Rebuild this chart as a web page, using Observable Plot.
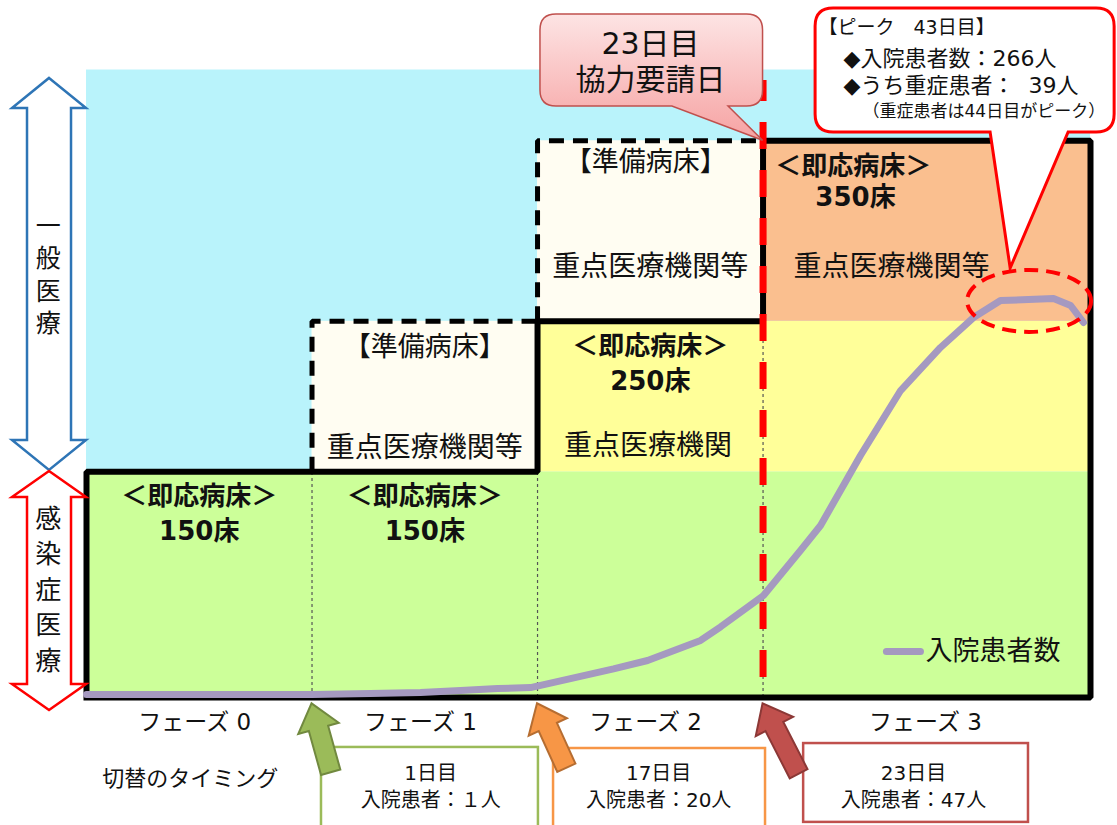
<!DOCTYPE html>
<html lang="ja"><head><meta charset="utf-8">
<script src="https://cdn.jsdelivr.net/npm/d3@7"></script>
<script src="https://cdn.jsdelivr.net/npm/@observablehq/plot@0.6"></script>
<style>
html,body{margin:0;padding:0;background:#fff;overflow:hidden}
svg{display:block}
</style></head>
<body><div id="chart"></div>
<script>
// ================= DATA =================
// x: timeline units (each of phases 0-2 spans 10 units); y: beds / patients
const phaseLabels = ["フェーズ 0", "フェーズ 1", "フェーズ 2", "フェーズ 3"];
const phaseStart = [0, 10, 20, 30];
const phaseEnd = [10, 20, 30, 44.52];
const immediateBeds = ["150床", "150床", "250床", "350床"];
const immediateLevel = [150, 150, 250, 370];
const prepPhase = [1, 2];
const prepLevel = [250, 370];
const generalTop = 417;

// inpatient curve
const curveX = [0, 5.06, 10.02, 12.59, 14.81, 16.59, 18.23, 19.69, 21.46, 23.37, 24.88, 27.23, 28.12, 30.02, 31.66, 32.55, 34.32, 36.1, 37.87, 39.33, 40.53, 42.88, 43.64, 44.21];
const curveY = [2, 2, 2, 2.7, 3.3, 4.7, 6, 6.6, 12.6, 19, 24.6, 37.9, 47, 67.8, 97.7, 114.3, 160.8, 204, 232.6, 252.5, 263.8, 265.1, 260.5, 249.2];

const switchDays = ["1日目", "17日目", "23日目"];
const switchPatients = ["入院患者：１人", "入院患者：20人", "入院患者：47人"];
const switchFill = ["#9bbb59", "#f79646", "#c0504d"];
const switchLine = ["#71893f", "#b66d31", "#8c3836"];

const sideLabels = ["一般医療", "感染症医療"];
const sideColors = ["#2e75b6", "#ff0000"];

const requestDayText = ["23日目", "協力要請日"];
const peakTexts = ["【ピーク　43日目】", "◆入院患者数：266人", "◆うち重症患者：\u200739人", "（重症患者は44日目がピーク）"];
const legendLabel = "入院患者数";

// ================= LAYOUT / STYLE =================
const FONT = "'DejaVu Sans', 'Noto Sans CJK JP', sans-serif";
const JP = "'Noto Sans CJK JP', sans-serif";
const C = {blue:"#b9f3fb", green:"#ccff99", yellow:"#ffff99", orange:"#fabf8f", cream:"#fffdf2", curve:"#a599c0"};

const regions = [
  {x1: phaseStart[0], x2: phaseEnd[3], y1: immediateLevel[0], y2: generalTop, fill: C.blue},
  {x1: phaseStart[0], x2: phaseEnd[3], y1: 0, y2: immediateLevel[0], fill: C.green},
  {x1: phaseStart[2], x2: phaseEnd[3], y1: immediateLevel[0], y2: immediateLevel[2], fill: C.yellow},
  {x1: phaseStart[3], x2: phaseEnd[3], y1: immediateLevel[2], y2: immediateLevel[3], fill: C.orange},
  ...prepPhase.map((p, i) => ({x1: phaseStart[p], x2: phaseEnd[p], y1: immediateLevel[p], y2: prepLevel[i], fill: C.cream}))
];

const outline = [
  [phaseStart[0], 0], [phaseStart[0], immediateLevel[0]], [phaseStart[2], immediateLevel[1]],
  [phaseStart[2], immediateLevel[2]], [phaseStart[3], immediateLevel[2]], [phaseStart[3], immediateLevel[3]],
  [phaseEnd[3], immediateLevel[3]], [phaseEnd[3], 0], [phaseStart[0], 0]
].map(([x, y]) => ({x, y}));

const prepOutline = prepPhase.flatMap((p, i) => [
  {x: phaseStart[p], y: immediateLevel[p], z: p},
  {x: phaseStart[p], y: prepLevel[i], z: p},
  {x: phaseEnd[p], y: prepLevel[i], z: p}
]);

const dividers = [
  {x: phaseStart[1], y2: immediateLevel[0]},
  {x: phaseStart[2], y2: immediateLevel[1]},
  {x: phaseStart[3], y2: immediateLevel[2]}
];

const curve = curveX.map((x, i) => ({x, y: curveY[i]}));

const boldTexts = [
  {x: 5, y: 133.6, t: "＜即応病床＞"}, {x: 5, y: 110.3, t: immediateBeds[0]},
  {x: 15, y: 133.6, t: "＜即応病床＞"}, {x: 15, y: 110.3, t: immediateBeds[1]},
  {x: 25, y: 233.3, t: "＜即応病床＞"}, {x: 25, y: 210, t: immediateBeds[2]},
  {x: 34, y: 352.9, t: "＜即応病床＞"}, {x: 34.1, y: 332.3, t: immediateBeds[3]}
];
const prepTexts = [
  {x: 15, y: 232.6, t: "【準備病床】"},
  {x: 24.8, y: 355.5, t: "【準備病床】"}
];
const hospTexts = [
  {x: 15, y: 165.5, t: "重点医療機関等"},
  {x: 25, y: 286.4, t: "重点医療機関等"},
  {x: 24.9, y: 166.8, t: "重点医療機関"},
  {x: 35.7, y: 286.4, t: "重点医療機関等"}
];
const phaseLabelPos = [{x: 4.8, y: -16.6}, {x: 14.81, y: -16.6}, {x: 24.79, y: -16.6}, {x: 37.2, y: -16.6}];

const switchBoxes = [
  {x1: 10.42, x2: 20.04, y1: -86, y2: -33.2, cx: 15.26},
  {x1: 20.71, x2: 30.11, y1: -86, y2: -33.9, cx: 25.37},
  {x1: 31.8, x2: 41.77, y1: -83, y2: -30.6, cx: 36.67}
];
const switchTail = [{x: 10.85, y: -50}, {x: 21.3, y: -47}, {x: 31.6, y: -51}];
const switchTipY = -4.2;

// side arrows (x in units left of 0)
const sideArrowX = -1.64;
const sideSpan = [{top: 411.4, bot: 150.9, head: 30}, {top: 150.2, bot: -8.6, head: 26}];
const sideText = [
  {x: -1.7, y: 282.1, t: [...sideLabels[0]].join("\n"), s: 25, lh: 1.3},
  {x: -1.7, y: 73.1, t: [...sideLabels[1]].join("\n"), s: 26, lh: 1.36}
];

// callouts (units)
const call1 = {x0: 20.13, x1: 30.0, y0: 453.9, y1: 392.7, xa: 25.98, xb: 28.47, tipX: phaseStart[3], tipY: immediateLevel[3]};
const call2 = {x0: 32.33, x1: 45.59, y0: 457.9, y1: 375.5, xa: 40.09, xb: 43.55, tipX: 40.98, tipY: 285.1};
const ellipse = {x: 41.82, y: 263.2, rx: 62, ry: 31};

// ================= HELPERS =================
function calloutPath(x0, y0, x1, y1, r, xa, xb, tx, ty) {
  return `M${x0 + r},${y0}H${x1 - r}Q${x1},${y0} ${x1},${y0 + r}V${y1 - r}Q${x1},${y1} ${x1 - r},${y1}` +
    `H${xb}L${tx},${ty}L${xa},${y1}H${x0 + r}Q${x0},${y1} ${x0},${y1 - r}V${y0 + r}Q${x0},${y0} ${x0 + r},${y0}Z`;
}
function blockArrow(tx, ty, sx, sy, sh, hh, hl) {
  const dx = tx - sx, dy = ty - sy, L = Math.hypot(dx, dy);
  const ux = dx / L, uy = dy / L, nx = -uy, ny = ux;
  const nkx = tx - ux * hl, nky = ty - uy * hl;
  const p = [
    [sx + nx * sh, sy + ny * sh], [nkx + nx * sh, nky + ny * sh], [nkx + nx * hh, nky + ny * hh], [tx, ty],
    [nkx - nx * hh, nky - ny * hh], [nkx - nx * sh, nky - ny * sh], [sx - nx * sh, sy - ny * sh]
  ];
  return "M" + p.map(q => q.join(",")).join("L") + "Z";
}
function doubleArrow(cx, yt, yb, hh, sh, hl) {
  const p = [[cx, yt], [cx + hh, yt + hl], [cx + sh, yt + hl], [cx + sh, yb - hl], [cx + hh, yb - hl], [cx, yb],
    [cx - hh, yb - hl], [cx - sh, yb - hl], [cx - sh, yt + hl], [cx - hh, yt + hl]];
  return "M" + p.map(q => q.join(",")).join("L") + "Z";
}

// custom marks (functions receive the plot's scales)
const sideArrowMark = (index, {x, y}) => {
  const g = d3.create("svg:g");
  sideSpan.forEach((s, k) => {
    g.append("path").attr("d", doubleArrow(x(sideArrowX), y(s.top), y(s.bot), 37, 22, s.head))
      .attr("fill", "#fff").attr("stroke", sideColors[k]).attr("stroke-width", 2.5).attr("stroke-linejoin", "miter");
  });
  return g.node();
};
const switchArrowMark = (index, {x, y}) => {
  const g = d3.create("svg:g");
  switchTail.forEach((t, i) => {
    g.append("path").attr("d", blockArrow(x(phaseStart[i + 1]), y(switchTipY), x(t.x), y(t.y), 10, 21, 26))
      .attr("fill", switchFill[i]).attr("stroke", switchLine[i]).attr("stroke-width", 2).attr("stroke-linejoin", "miter");
  });
  return g.node();
};
const calloutMark = (index, {x, y}) => {
  const g = d3.create("svg:g");
  const defs = g.append("defs");
  const gr = defs.append("linearGradient").attr("id", "pinkGrad").attr("x1", 0).attr("y1", 0).attr("x2", 0).attr("y2", 1);
  gr.append("stop").attr("offset", "0%").attr("stop-color", "#fde4e4");
  gr.append("stop").attr("offset", "100%").attr("stop-color", "#f6a2a2");
  // dashed ellipse around the peak
  g.append("ellipse").attr("cx", x(ellipse.x)).attr("cy", y(ellipse.y)).attr("rx", ellipse.rx).attr("ry", ellipse.ry)
    .attr("fill", "none").attr("stroke", "#ff0000").attr("stroke-width", 4).attr("stroke-dasharray", "14,8");
  g.append("path").attr("d", calloutPath(x(call1.x0), y(call1.y0), x(call1.x1), y(call1.y1), 16,
      x(call1.xa), x(call1.xb), x(call1.tipX), y(call1.tipY)))
    .attr("fill", "url(#pinkGrad)").attr("stroke", "#c0504d").attr("stroke-width", 1.5);
  g.append("path").attr("d", calloutPath(x(call2.x0), y(call2.y0), x(call2.x1), y(call2.y1), 18,
      x(call2.xa), x(call2.xb), x(call2.tipX), y(call2.tipY)))
    .attr("fill", "#fff").attr("stroke", "#ff0000").attr("stroke-width", 3);
  return g.node();
};

const switchTextData = switchBoxes.flatMap((b, i) => [
  {x: b.cx, y: -50.5, t: switchDays[i]},
  {x: b.cx, y: -68.4, t: switchPatients[i]}
]);
const call1Texts = [{x: 25.01, y: 434, t: requestDayText[0]}, {x: 25.01, y: 410, t: requestDayText[1]}];
const call2Texts = [
  {x: 32.46, y: 445.2, t: peakTexts[0], s: 19},
  {x: 33.57, y: 424.6, t: peakTexts[1], s: 22},
  {x: 33.57, y: 406.7, t: peakTexts[2], s: 22},
  {x: 34.41, y: 389.4, t: peakTexts[3], s: 17}
];

// ================= PLOT =================
const chart = Plot.plot({
  width: 1117, height: 825,
  marginLeft: 86, marginRight: 27, marginTop: 65, marginBottom: 128,
  x: {domain: [0, 44.52], axis: null},
  y: {domain: [0, 420], axis: null},
  color: {type: "identity"},
  style: {fontFamily: FONT, background: "#fff", color: "#111", overflow: "visible"},
  marks: [
    Plot.rect(regions, {x1: "x1", x2: "x2", y1: "y1", y2: "y2", fill: "fill"}),
    Plot.ruleX(dividers, {x: "x", y1: 0, y2: "y2", stroke: "#555", strokeWidth: 1.2, strokeDasharray: "3,3"}),
    Plot.line(prepOutline, {x: "x", y: "y", z: "z", stroke: "#000", strokeWidth: 5, strokeDasharray: "15,9", strokeLinejoin: "miter", strokeLinecap: "butt"}),
    Plot.line(outline, {x: "x", y: "y", stroke: "#000", strokeWidth: 6, strokeLinejoin: "miter", strokeLinecap: "square"}),
    Plot.ruleX([phaseStart[3]], {y1: 410, y2: 0, stroke: "#ff0000", strokeWidth: 7, strokeDasharray: "27,21", strokeDashoffset: 6}),
    Plot.line(curve, {x: "x", y: "y", stroke: C.curve, strokeWidth: 7, strokeLinejoin: "round", strokeLinecap: "round"}),
    // legend
    Plot.line([{x: 35.47, y: 30.6}, {x: 36.98, y: 30.6}], {x: "x", y: "y", stroke: C.curve, strokeWidth: 7, strokeLinecap: "round"}),
    Plot.text([legendLabel], {x: 37.2, y: 30.6, text: d => d, textAnchor: "start", fontSize: 27, fontFamily: JP, fill: "#111"}),
    // box labels
    Plot.text(boldTexts, {x: "x", y: "y", text: "t", fontSize: 26, fontWeight: "bold", fill: "#111"}),
    Plot.text(prepTexts, {x: "x", y: "y", text: "t", fontSize: 27, fontFamily: JP, fill: "#111"}),
    Plot.text(hospTexts, {x: "x", y: "y", text: "t", fontSize: 28, fontFamily: JP, fill: "#111"}),
    // side arrows and labels
    sideArrowMark,
    Plot.text([sideText[0]], {x: "x", y: "y", text: "t", fontSize: sideText[0].s, lineHeight: sideText[0].lh, fontFamily: JP, fill: "#111"}),
    Plot.text([sideText[1]], {x: "x", y: "y", text: "t", fontSize: sideText[1].s, lineHeight: sideText[1].lh, fontFamily: JP, fill: "#111"}),
    // phase labels
    Plot.text(phaseLabels, {x: (d, i) => phaseLabelPos[i].x, y: (d, i) => phaseLabelPos[i].y, text: d => d, fontSize: 23, fill: "#111"}),
    Plot.text(["切替のタイミング"], {x: 4.6, y: -53.8, text: d => d, fontSize: 22, fontFamily: JP, fill: "#111"}),
    // switch timing boxes
    Plot.rect(switchBoxes, {x1: "x1", x2: "x2", y1: "y1", y2: "y2", fill: "#fff", stroke: (d, i) => switchFill[i], strokeWidth: 2.5}),
    switchArrowMark,
    Plot.text(switchTextData, {x: "x", y: "y", text: "t", fontSize: 20, fill: "#111"}),
    // callouts
    calloutMark,
    Plot.text(call1Texts, {x: "x", y: "y", text: "t", fontSize: 30, fill: "#111"}),
    Plot.text(call2Texts, {x: "x", y: "y", text: "t", fontSize: d => d.s, textAnchor: "start", fill: "#111"})
  ]
});
document.getElementById("chart").append(chart);
</script>
</body></html>
